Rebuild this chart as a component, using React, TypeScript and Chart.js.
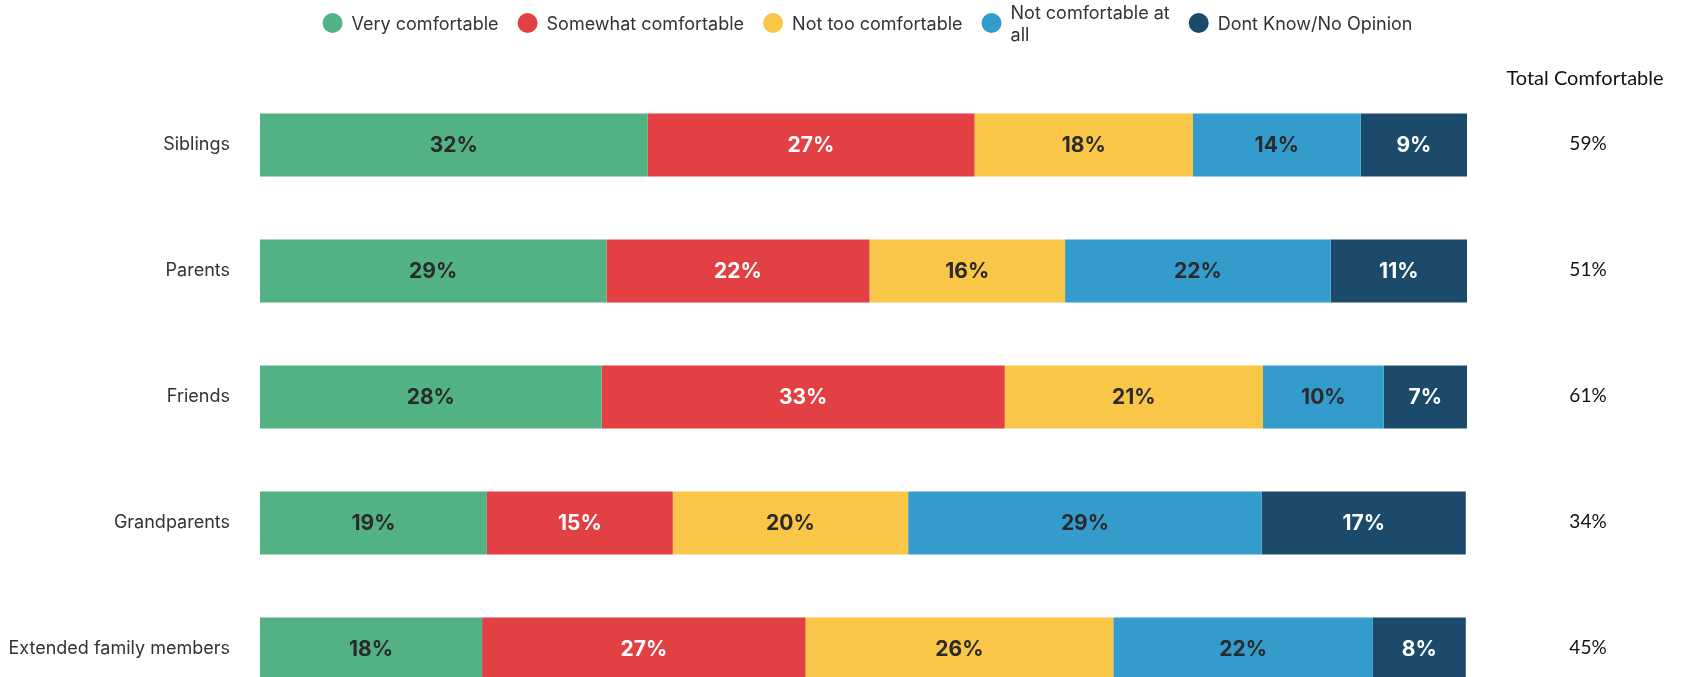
import React, { useEffect, useRef } from "react";
import { Chart, registerables } from "chart.js";

Chart.register(...registerables);

const categories = ["Siblings", "Parents", "Friends", "Grandparents", "Extended family members"];
const seriesNames = ["Very comfortable", "Somewhat comfortable", "Not too comfortable", "Not comfortable at all", "Dont Know/No Opinion"];
const legendLines = [["Very comfortable"], ["Somewhat comfortable"], ["Not too comfortable"], ["Not comfortable at", "all"], ["Dont Know/No Opinion"]];
const veryComfortable = [32.1, 28.7, 28.3, 18.8, 18.4];
const somewhatComfortable = [27.1, 21.8, 33.4, 15.4, 26.8];
const notTooComfortable = [18.1, 16.2, 21.4, 19.5, 25.5];
const notComfortableAtAll = [13.9, 22.0, 10.0, 29.3, 21.5];
const dontKnow = [8.8, 11.3, 6.9, 16.9, 7.7];
const totalComfortable = [59, 51, 61, 34, 45];
const totalHeader = "Total Comfortable";

const seriesValues = [veryComfortable, somewhatComfortable, notTooComfortable, notComfortableAtAll, dontKnow];
const colors = ["#52B283", "#E24042", "#F9C647", "#349CCD", "#1C4A6A"];
const labelColors = ["#2A2A2A", "#FFFFFF", "#2A2A2A", "#2A2A2A", "#FFFFFF"];

const overlay = {
  id: "overlay",
  afterDatasetsDraw(chart: any) {
    const ctx = chart.ctx;
    const area = chart.chartArea;
    chart.data.datasets.forEach((ds: any, di: number) => {
      const meta = chart.getDatasetMeta(di);
      meta.data.forEach((el: any, i: number) => {
        const p = el.getProps(["x", "y", "base"], true);
        ctx.save();
        ctx.font = "700 21px Inter, sans-serif";
        ctx.fillStyle = labelColors[di];
        ctx.textAlign = "center";
        ctx.textBaseline = "middle";
        ctx.fillText(Math.round(ds.data[i]) + "%", (p.x + p.base) / 2, p.y + 1);
        ctx.restore();
      });
    });
    const yScale = chart.scales.y;
    const colX = area.right + 118;
    ctx.save();
    ctx.fillStyle = "#111111";
    ctx.textAlign = "center";
    ctx.textBaseline = "middle";
    ctx.font = "20px Lato, sans-serif";
    ctx.fillText(totalHeader, colX, 79);
    ctx.font = "19px Lato, sans-serif";
    totalComfortable.forEach((v, i) => {
      ctx.fillText(v + "%", colX + 3, yScale.getPixelForValue(i) - 1);
    });
    ctx.restore();
    ctx.save();
    ctx.font = "18px Inter, sans-serif";
    const r = 10;
    const gapText = 9;
    const gapItem = 19;
    const widths = legendLines.map((lines) => Math.max(...lines.map((l) => ctx.measureText(l).width)));
    const total = widths.reduce((a, w) => a + 2 * r + gapText + w, 0) + gapItem * (widths.length - 1);
    let x = (area.left + area.right) / 2 + 4 - total / 2;
    const cy = 23;
    legendLines.forEach((lines, i) => {
      ctx.beginPath();
      ctx.fillStyle = colors[i];
      ctx.arc(x + r, cy, r, 0, Math.PI * 2);
      ctx.fill();
      ctx.fillStyle = "#333333";
      ctx.textAlign = "left";
      ctx.textBaseline = "middle";
      const lh = 22;
      lines.forEach((l, li) => {
        ctx.fillText(l, x + 2 * r + gapText, cy + 2 + (li - (lines.length - 1) / 2) * lh);
      });
      x += 2 * r + gapText + widths[i] + gapItem;
    });
    ctx.restore();
  },
};

export default function App() {
  const ref = useRef<HTMLCanvasElement>(null);
  useEffect(() => {
    document.body.style.margin = "0";
    document.body.style.overflow = "hidden";
    const chart = new Chart(ref.current!, {
      type: "bar",
      data: {
        labels: categories,
        datasets: seriesValues.map((vals, i) => ({
          label: seriesNames[i],
          data: vals,
          backgroundColor: colors[i],
          borderWidth: 0,
          barPercentage: 0.5,
          categoryPercentage: 1,
        })),
      },
      options: {
        indexAxis: "y",
        animation: false,
        responsive: false,
        layout: { padding: { top: 82, right: 216, bottom: 8, left: 0 } },
        plugins: { legend: { display: false }, tooltip: { enabled: false } },
        scales: {
          x: { stacked: true, min: 0, max: 100, display: false },
          y: {
            stacked: true,
            grid: { display: false, drawTicks: false },
            border: { display: false },
            ticks: { font: { size: 18, family: "Inter, sans-serif" }, color: "#333333", padding: 30 },
            afterFit: (s: any) => {
              s.width = 260;
              s.paddingTop = 0;
              s.paddingBottom = 0;
            },
          },
        },
      },
      plugins: [overlay],
    });
    return () => chart.destroy();
  }, []);
  return (
    <div style={{ width: 1683, height: 677, overflow: "hidden" }}>
      <canvas ref={ref} width={1683} height={720} style={{ display: "block" }} />
    </div>
  );
}
